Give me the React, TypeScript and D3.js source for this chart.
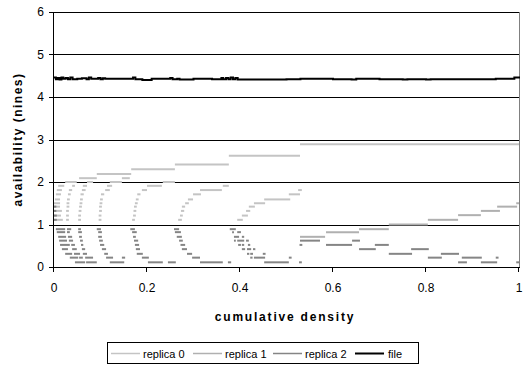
import React from "react";
import * as d3 from "d3";

type Seg = [number, number, number];

const yTicks = [0, 1, 2, 3, 4, 5, 6];
const xTicks = [0, 0.2, 0.4, 0.6, 0.8, 1];
const xTickLabels = ["0", "0.2", "0.4", "0.6", "0.8", "1"];
const seriesNames = ["replica 0", "replica 1", "replica 2", "file"];
const seriesColors = ["#c4c4c4", "#b0b0b0", "#858585", "#000000"];

// replica 0: [x start, x end, availability]
const replica0: Seg[] = [
  [0.024, 0.049, 2.0], [0.071, 0.084, 2.0], [0.12, 0.146, 2.0], [0.234, 0.26, 2.0],
  [0.054, 0.092, 2.09], [0.146, 0.163, 2.09],
  [0.092, 0.166, 2.19],
  [0.166, 0.26, 2.3],
  [0.26, 0.376, 2.41],
  [0.376, 0.529, 2.62],
  [0.529, 1.0, 2.89],
  [0.009, 0.022, 1.91], [0.039, 0.045, 1.91],
  [0.006, 0.017, 1.81], [0.032, 0.039, 1.81],
  [0.004, 0.015, 1.71], [0.03, 0.036, 1.71],
  [0.002, 0.013, 1.59], [0.028, 0.034, 1.59],
  [0, 0.013, 1.5], [0.027, 0.033, 1.5],
  [0, 0.013, 1.42], [0.027, 0.033, 1.42],
  [0, 0.017, 1.32], [0.026, 0.032, 1.32],
  [0, 0.015, 1.21], [0.026, 0.032, 1.21],
  [0, 0.019, 1.11], [0.026, 0.032, 1.11],
  [0.052, 0.058, 1.11], [0.052, 0.058, 1.21], [0.053, 0.059, 1.32], [0.054, 0.06, 1.42],
  [0.055, 0.061, 1.5], [0.056, 0.062, 1.59], [0.057, 0.064, 1.71], [0.06, 0.068, 1.81], [0.062, 0.071, 1.91],
  [0.096, 0.102, 1.11], [0.096, 0.102, 1.21], [0.097, 0.103, 1.32], [0.097, 0.103, 1.42],
  [0.098, 0.104, 1.5], [0.099, 0.105, 1.59], [0.101, 0.108, 1.71], [0.11, 0.12, 1.81], [0.114, 0.125, 1.91],
  [0.168, 0.174, 1.11], [0.17, 0.176, 1.21], [0.171, 0.177, 1.32], [0.172, 0.178, 1.42],
  [0.174, 0.18, 1.5], [0.176, 0.182, 1.59], [0.179, 0.186, 1.71], [0.189, 0.2, 1.81], [0.2, 0.232, 1.91],
  [0.267, 0.275, 1.11], [0.271, 0.277, 1.21], [0.273, 0.28, 1.32], [0.275, 0.282, 1.42],
  [0.282, 0.29, 1.5], [0.288, 0.299, 1.59], [0.299, 0.316, 1.71], [0.314, 0.361, 1.81], [0.363, 0.376, 1.91],
  [0.394, 0.406, 1.11], [0.404, 0.417, 1.21], [0.413, 0.422, 1.32], [0.419, 0.432, 1.42],
  [0.43, 0.454, 1.5], [0.452, 0.508, 1.59], [0.505, 0.529, 1.71], [0.525, 0.533, 1.81],
];

const replica1: Seg[] = [
  [0.529, 0.583, 0.71], [0.585, 0.656, 0.82], [0.656, 0.72, 0.89], [0.72, 0.804, 1.0],
  [0.804, 0.869, 1.11], [0.869, 0.918, 1.22], [0.918, 0.959, 1.32], [0.953, 0.996, 1.42],
  [0.994, 1.0, 1.5],
];

const replica2: Seg[] = [
  [0, 0.006, 1.11], [0, 0.006, 1.21], [0, 0.005, 1.32], [0, 0.005, 1.42],
  [0.004, 0.024, 0.89], [0.028, 0.037, 0.89], [0.052, 0.058, 0.89],
  [0.006, 0.024, 0.82], [0.028, 0.034, 0.82], [0.052, 0.06, 0.82],
  [0.009, 0.026, 0.71], [0.03, 0.039, 0.71], [0.054, 0.06, 0.71],
  [0.011, 0.028, 0.62], [0.032, 0.041, 0.62], [0.056, 0.062, 0.62],
  [0.013, 0.034, 0.52], [0.037, 0.045, 0.52], [0.058, 0.063, 0.52],
  [0.017, 0.03, 0.42], [0.039, 0.049, 0.42], [0.06, 0.067, 0.42],
  [0.024, 0.039, 0.31], [0.043, 0.056, 0.31], [0.062, 0.071, 0.31],
  [0.034, 0.052, 0.22], [0.054, 0.062, 0.22], [0.067, 0.084, 0.22],
  [0.045, 0.067, 0.11], [0.069, 0.092, 0.11],
  [0.092, 0.101, 0.89], [0.095, 0.103, 0.82], [0.095, 0.103, 0.71], [0.097, 0.105, 0.62],
  [0.099, 0.108, 0.52], [0.103, 0.112, 0.42], [0.108, 0.116, 0.31], [0.112, 0.127, 0.22], [0.12, 0.151, 0.11],
  [0.164, 0.174, 0.89], [0.168, 0.178, 0.82], [0.17, 0.176, 0.71], [0.172, 0.181, 0.62],
  [0.174, 0.183, 0.52], [0.176, 0.185, 0.42], [0.178, 0.191, 0.31], [0.189, 0.204, 0.22],
  [0.146, 0.153, 0.22], [0.202, 0.234, 0.11], [0.245, 0.262, 0.11],
  [0.258, 0.269, 0.89], [0.26, 0.273, 0.82], [0.264, 0.275, 0.71], [0.269, 0.277, 0.62],
  [0.272, 0.282, 0.52], [0.275, 0.286, 0.42], [0.286, 0.297, 0.31], [0.297, 0.314, 0.22],
  [0.314, 0.363, 0.11], [0.374, 0.381, 0.11],
  [0.378, 0.391, 0.89], [0.383, 0.387, 0.82], [0.394, 0.402, 0.82], [0.387, 0.398, 0.71],
  [0.404, 0.409, 0.71], [0.387, 0.391, 0.62], [0.394, 0.409, 0.62], [0.413, 0.419, 0.62],
  [0.396, 0.402, 0.52], [0.404, 0.409, 0.52], [0.417, 0.422, 0.52], [0.404, 0.411, 0.42],
  [0.415, 0.424, 0.42], [0.428, 0.433, 0.42], [0.415, 0.42, 0.31], [0.422, 0.428, 0.31],
  [0.449, 0.455, 0.31], [0.422, 0.427, 0.22], [0.43, 0.454, 0.22], [0.505, 0.511, 0.22],
  [0.452, 0.505, 0.11], [0.527, 0.533, 0.11],
  [0.529, 0.572, 0.62], [0.641, 0.658, 0.62],
  [0.585, 0.641, 0.52], [0.69, 0.72, 0.52], [0.528, 0.534, 0.52],
  [0.656, 0.692, 0.42], [0.768, 0.806, 0.42],
  [0.72, 0.77, 0.31], [0.832, 0.871, 0.31],
  [0.804, 0.834, 0.22], [0.877, 0.92, 0.22], [0.95, 0.956, 0.22],
  [0.869, 0.888, 0.11], [0.918, 0.953, 0.11], [0.994, 1.0, 0.11],
];

// file: step points [x, availability]
const fileX = [0, 0.004, 0.008, 0.012, 0.016, 0.02, 0.025, 0.03, 0.035, 0.04, 0.05, 0.06, 0.07, 0.075, 0.08, 0.095, 0.1,
  0.105, 0.11, 0.17, 0.175, 0.19, 0.21, 0.25, 0.255, 0.265, 0.27, 0.3, 0.34, 0.36, 0.364, 0.37, 0.375, 0.38,
  0.385, 0.39, 0.395, 0.45, 0.5, 0.53, 0.6, 0.64, 0.65, 0.7, 0.75, 0.76, 0.8, 0.81, 0.88, 0.95, 0.99, 1.0];
const fileY = [4.46, 4.42, 4.45, 4.41, 4.46, 4.43, 4.45, 4.42, 4.46, 4.42, 4.43, 4.44, 4.42, 4.46, 4.43, 4.45, 4.42,
  4.44, 4.43, 4.46, 4.42, 4.4, 4.43, 4.45, 4.42, 4.43, 4.41, 4.43, 4.42, 4.45, 4.42, 4.45, 4.42, 4.46,
  4.42, 4.45, 4.41, 4.41, 4.42, 4.43, 4.42, 4.41, 4.43, 4.42, 4.41, 4.42, 4.41, 4.42, 4.42, 4.43, 4.46, 4.48];

const W = 523;
const H = 373;
const left = 54;
const right = 519;
const top = 12;
const bottom = 267;
const font = "'Liberation Sans', Arial, sans-serif";

export default function App() {
  const x = d3.scaleLinear().domain([0, 1]).range([left, right]);
  const y = d3.scaleLinear().domain([0, 6]).range([bottom, top]);
  const filePts: [number, number][] = fileX.map((v, i) => [v, fileY[i]]);
  const fileLine = d3
    .line<[number, number]>()
    .x((d) => x(d[0]))
    .y((d) => y(d[1]))
    .curve(d3.curveStepAfter);

  const segs = [replica0, replica1, replica2];
  const crisp = (v: number) => Math.round(v) + 0.5;

  const legendX = [111, 193, 273, 355];
  const legendTextX = [143, 225, 305, 388];

  return (
    <svg width={W} height={H} style={{ position: "absolute", left: 0, top: 0, background: "#fff" }}>
      <rect x={0} y={0} width={W} height={H} fill="#fff" />
      {/* gridlines */}
      {yTicks.filter((t) => t > 0).map((t) => (
        <line key={"g" + t} x1={left} x2={right} y1={crisp(y(t))} y2={crisp(y(t))} stroke="#000" strokeWidth={1} />
      ))}
      <line x1={right + 0.5} x2={right + 0.5} y1={top} y2={bottom} stroke="#808080" strokeWidth={1} />
      {/* series */}
      {segs.map((list, si) =>
        list.map((s, i) => (
          <line
            key={si + "-" + i}
            x1={x(s[0])}
            x2={x(s[1])}
            y1={y(s[2])}
            y2={y(s[2])}
            stroke={seriesColors[si]}
            strokeWidth={2}
          />
        ))
      )}
      <path d={fileLine(filePts) || ""} fill="none" stroke="#000" strokeWidth={2} />
      {/* axes */}
      <line x1={left - 0.5} x2={left - 0.5} y1={top} y2={bottom + 0.5} stroke="#000" strokeWidth={1} />
      <line x1={left} x2={right + 1} y1={bottom + 0.5} y2={bottom + 0.5} stroke="#000" strokeWidth={1} />
      {yTicks.map((t) => (
        <g key={"y" + t}>
          <line x1={left - 5} x2={left} y1={crisp(y(t))} y2={crisp(y(t))} stroke="#000" />
          <text x={left - 10} y={y(t)} dy="0.35em" textAnchor="end" fontFamily={font} fontSize={12}>
            {t}
          </text>
        </g>
      ))}
      {xTicks.map((t, i) => (
        <g key={"x" + t}>
          <line x1={crisp(x(t)) - 1} x2={crisp(x(t)) - 1} y1={bottom} y2={bottom + 5} stroke="#000" />
          <text x={x(t)} y={292} textAnchor="middle" fontFamily={font} fontSize={12}>
            {xTickLabels[i]}
          </text>
        </g>
      ))}
      {/* titles */}
      <text x={285} y={321} textAnchor="middle" fontFamily={font} fontSize={12} fontWeight="bold" letterSpacing={1.8}>
        cumulative density
      </text>
      <text
        transform={`translate(22, ${(top + bottom) / 2}) rotate(-90)`}
        textAnchor="middle"
        fontFamily={font}
        fontSize={12}
        fontWeight="bold"
        letterSpacing={1.5}
      >
        availability (nines)
      </text>
      {/* legend */}
      <rect x={107.5} y={342.5} width={311} height={21} fill="#fff" stroke="#000" strokeWidth={1} />
      {seriesNames.map((n, i) => (
        <g key={n}>
          <line x1={legendX[i]} x2={legendX[i] + 29} y1={353.5} y2={353.5} stroke={seriesColors[i]} strokeWidth={i === 3 ? 2 : 1.5} />
          <text x={legendTextX[i]} y={357.5} fontFamily={font} fontSize={11}>
            {n}
          </text>
        </g>
      ))}
    </svg>
  );
}
